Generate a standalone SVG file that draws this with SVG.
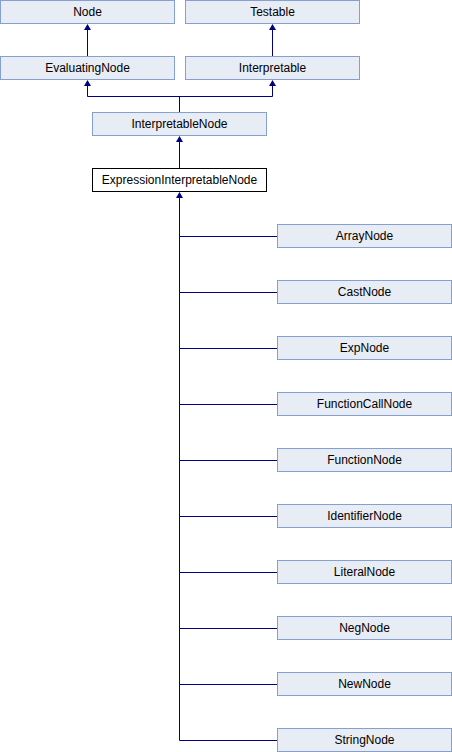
<svg xmlns="http://www.w3.org/2000/svg" width="452" height="752" viewBox="0 0 452 752">
<style>
.b rect{fill:#E8ECF5;stroke:#84A0D0;stroke-width:1}
.m rect{fill:#FFFFFF;stroke:#000000;stroke-width:1}
text{font-family:"Liberation Sans",Arial,sans-serif;font-size:12px;fill:#000;text-anchor:middle}
.e{fill:none;stroke:#000080;stroke-width:1}
.a{fill:#000080;stroke:none}
</style>
<rect width="452" height="752" fill="#fff"/>
<g id="connectors">
<path class="e" d="M87.5,25 V56 M272.5,25 V56 M87.5,81 V96.5 H272.5 V81 M179.5,96.5 V112 M179.5,137 V168 M179.5,193 V740.5"/>
<path class="e" d="M179.5,236.5 H277 M179.5,292.5 H277 M179.5,348.5 H277 M179.5,404.5 H277 M179.5,460.5 H277 M179.5,516.5 H277 M179.5,572.5 H277 M179.5,628.5 H277 M179.5,684.5 H277 M179.5,740.5 H277"/>
<polygon class="a" points="87.5,24 91,30 84,30"/>
<polygon class="a" points="272.5,24 276,30 269,30"/>
<polygon class="a" points="87.5,80 91,86 84,86"/>
<polygon class="a" points="272.5,80 276,86 269,86"/>
<polygon class="a" points="179.5,136 183,142 176,142"/>
<polygon class="a" points="179.5,192 183,198 176,198"/>
</g>
<g id="Node" class="b"><rect x="0.5" y="0.5" width="174" height="23"/><text x="87.5" y="16">Node</text></g>
<g id="Testable" class="b"><rect x="185.5" y="0.5" width="174" height="23"/><text x="272.5" y="16">Testable</text></g>
<g id="EvaluatingNode" class="b"><rect x="0.5" y="56.5" width="174" height="23"/><text x="87.5" y="72">EvaluatingNode</text></g>
<g id="Interpretable" class="b"><rect x="185.5" y="56.5" width="174" height="23"/><text x="272.5" y="72">Interpretable</text></g>
<g id="InterpretableNode" class="b"><rect x="92.5" y="112.5" width="174" height="23"/><text x="179.5" y="128">InterpretableNode</text></g>
<g id="ExpressionInterpretableNode" class="m"><rect x="92.5" y="168.5" width="174" height="23"/><text x="179.5" y="184">ExpressionInterpretableNode</text></g>
<g id="ArrayNode" class="b"><rect x="277.5" y="224.5" width="174" height="23"/><text x="364.5" y="240">ArrayNode</text></g>
<g id="CastNode" class="b"><rect x="277.5" y="280.5" width="174" height="23"/><text x="364.5" y="296">CastNode</text></g>
<g id="ExpNode" class="b"><rect x="277.5" y="336.5" width="174" height="23"/><text x="364.5" y="352">ExpNode</text></g>
<g id="FunctionCallNode" class="b"><rect x="277.5" y="392.5" width="174" height="23"/><text x="364.5" y="408">FunctionCallNode</text></g>
<g id="FunctionNode" class="b"><rect x="277.5" y="448.5" width="174" height="23"/><text x="364.5" y="464">FunctionNode</text></g>
<g id="IdentifierNode" class="b"><rect x="277.5" y="504.5" width="174" height="23"/><text x="364.5" y="520">IdentifierNode</text></g>
<g id="LiteralNode" class="b"><rect x="277.5" y="560.5" width="174" height="23"/><text x="364.5" y="576">LiteralNode</text></g>
<g id="NegNode" class="b"><rect x="277.5" y="616.5" width="174" height="23"/><text x="364.5" y="632">NegNode</text></g>
<g id="NewNode" class="b"><rect x="277.5" y="672.5" width="174" height="23"/><text x="364.5" y="688">NewNode</text></g>
<g id="StringNode" class="b"><rect x="277.5" y="728.5" width="174" height="23"/><text x="364.5" y="744">StringNode</text></g>
</svg>
